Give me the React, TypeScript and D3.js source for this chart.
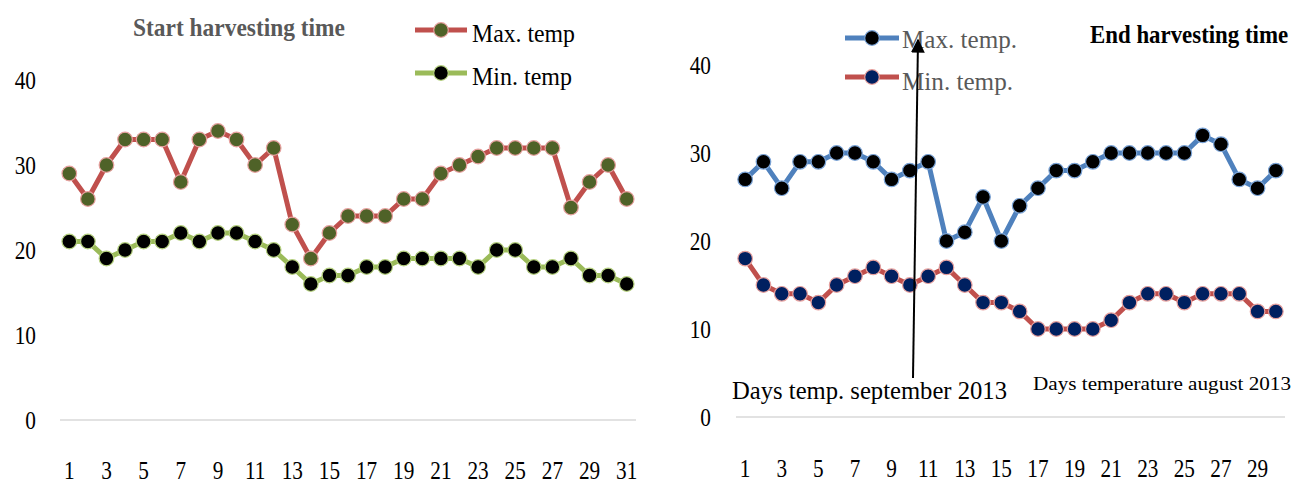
import React from 'react';
import * as d3 from 'd3';

// August 2013 (start of harvest), daily temperatures in °C
const augDays = [1,2,3,4,5,6,7,8,9,10,11,12,13,14,15,16,17,18,19,20,21,22,23,24,25,26,27,28,29,30,31];
const augMax = [29,26,30,33,33,33,28,33,34,33,30,32,23,19,22,24,24,24,26,26,29,30,31,32,32,32,32,25,28,30,26];
const augMin = [21,21,19,20,21,21,22,21,22,22,21,20,18,16,17,17,18,18,19,19,19,19,18,20,20,18,18,19,17,17,16];

// September 2013 (end of harvest)
const sepDays = [1,2,3,4,5,6,7,8,9,10,11,12,13,14,15,16,17,18,19,20,21,22,23,24,25,26,27,28,29,30];
const sepMax = [27,29,26,29,29,30,30,29,27,28,29,20,21,25,20,24,26,28,28,29,30,30,30,30,30,32,31,27,26,28];
const sepMin = [18,15,14,14,13,15,16,17,16,15,16,17,15,13,13,12,10,10,10,10,11,13,14,14,13,14,14,14,12,12];

const yTicks = [0, 10, 20, 30, 40];
const augTickDays = [1,3,5,7,9,11,13,15,17,19,21,23,25,27,29,31];
const sepTickDays = [1,3,5,7,9,11,13,15,17,19,21,23,25,27,29];

const FONT = '"Liberation Serif", "Times New Roman", serif';

type Series = { values: number[]; line: string; fill: string; ring: string };

function Squeezed({ x, y, sx, anchor, size, children, fill = '#000', weight = 400 }: any) {
  return (
    <text
      transform={`translate(${x},${y}) scale(${sx},1)`}
      textAnchor={anchor}
      fontFamily={FONT}
      fontSize={size}
      fontWeight={weight}
      fill={fill}
    >
      {children}
    </text>
  );
}

function Panel({ days, tickDays, series, xRange, yRange, labelRight, tickBaseline }: any) {
  const x = d3.scaleBand<number>().domain(days).range(xRange).padding(0);
  const y = d3.scaleLinear().domain([0, 40]).range(yRange);
  const cx = (d: number) => (x(d) as number) + x.bandwidth() / 2;
  const line = d3
    .line<number>()
    .x((_, i) => cx(days[i]))
    .y((v) => y(v));
  return (
    <g>
      <line x1={xRange[0]} x2={xRange[1]} y1={y(0)} y2={y(0)} stroke="#d9d9d9" strokeWidth={1.5} />
      {yTicks.map((t) => (
        <Squeezed key={t} x={labelRight} y={y(t) + 9} sx={0.82} anchor="end" size={26}>
          {t}
        </Squeezed>
      ))}
      {tickDays.map((d: number) => (
        <Squeezed key={d} x={cx(d)} y={tickBaseline} sx={0.85} anchor="middle" size={25}>
          {d}
        </Squeezed>
      ))}
      {series.map((s: Series, k: number) => (
        <g key={k}>
          <path d={line(s.values) || ''} fill="none" stroke={s.line} strokeWidth={5} strokeLinejoin="round" />
          {s.values.map((v, i) => (
            <circle key={i} cx={cx(days[i])} cy={y(v)} r={7.3} fill={s.fill} stroke={s.ring} strokeWidth={1.2} />
          ))}
        </g>
      ))}
    </g>
  );
}

function LegendRow({ x1, x2, y, s, tx, ty, label, width, size, color }: any) {
  return (
    <g>
      <line x1={x1} x2={x2} y1={y} y2={y} stroke={s.line} strokeWidth={5} />
      <circle cx={(x1 + x2) / 2} cy={y} r={7.3} fill={s.fill} stroke={s.ring} strokeWidth={1.2} />
      <text x={tx} y={ty} fontFamily={FONT} fontSize={size} fill={color} textLength={width} lengthAdjust="spacingAndGlyphs">
        {label}
      </text>
    </g>
  );
}

export default function App() {
  const augMaxS: Series = { values: augMax, line: '#c0504d', fill: '#4f6228', ring: '#e6a09e' };
  const augMinS: Series = { values: augMin, line: '#9bbb59', fill: '#000000', ring: '#b5d07f' };
  const sepMaxS: Series = { values: sepMax, line: '#4f81bd', fill: '#000000', ring: '#7aa3d6' };
  const sepMinS: Series = { values: sepMin, line: '#c0504d', fill: '#002060', ring: '#e6a09e' };

  return (
    <svg width={1305} height={485} style={{ position: 'absolute', left: 0, top: 0, background: '#fff' }}>
      <defs>
        <marker id="arrowHead" viewBox="0 0 10 10" refX="9" refY="5" markerWidth="7" markerHeight="7" orient="auto">
          <path d="M0,0 L10,5 L0,10 z" fill="#000" />
        </marker>
      </defs>

      {/* Start of harvest */}
      <text x={133} y={36} fontFamily={FONT} fontSize={25} fontWeight={700} fill="#595959" textLength={212} lengthAdjust="spacingAndGlyphs">
        Start harvesting time
      </text>
      <LegendRow x1={415} x2={467} y={30} s={augMaxS} tx={472} ty={42} label="Max. temp" width={103} size={26} color="#000" />
      <LegendRow x1={415} x2={467} y={73} s={augMinS} tx={472} ty={85} label="Min. temp" width={100} size={26} color="#000" />
      <Panel
        days={augDays}
        tickDays={augTickDays}
        series={[augMinS, augMaxS]}
        xRange={[60, 636]}
        yRange={[420, 80]}
        labelRight={36}
        tickBaseline={479}
      />

      {/* End of harvest */}
      <Squeezed x={1090} y={43} sx={0.88} anchor="start" size={26} weight={700}>
        End harvesting time
      </Squeezed>
      <LegendRow x1={845} x2={899} y={38} s={sepMaxS} tx={902} ty={48} label="Max. temp." width={115} size={25} color="#595959" />
      <LegendRow x1={845} x2={899} y={77} s={sepMinS} tx={902} ty={90} label="Min. temp." width={111} size={25} color="#595959" />
      <Panel
        days={sepDays}
        tickDays={sepTickDays}
        series={[sepMinS, sepMaxS]}
        xRange={[736, 1285]}
        yRange={[417, 65]}
        labelRight={711}
        tickBaseline={477}
      />

      <text x={732} y={399} fontFamily={FONT} fontSize={26} fill="#000" textLength={275} lengthAdjust="spacingAndGlyphs">
        Days temp. september 2013
      </text>
      <text x={1033} y={390} fontFamily={FONT} fontSize={19} fill="#000" textLength={258} lengthAdjust="spacingAndGlyphs">
        Days temperature august 2013
      </text>

      <line x1={913} y1={378} x2={918} y2={40} stroke="#000" strokeWidth={2} markerEnd="url(#arrowHead)" />
    </svg>
  );
}
